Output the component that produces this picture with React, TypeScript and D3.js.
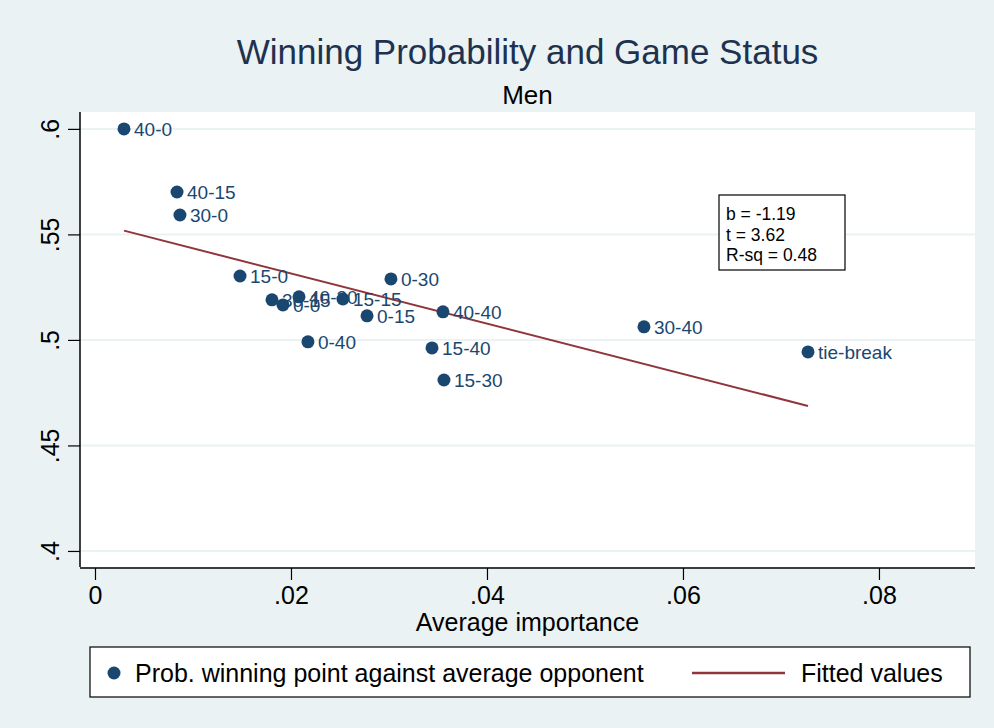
import React, { useRef, useEffect } from 'react';
import * as d3 from 'd3';

// points: average importance vs prob. winning point against average opponent
const scoreLabels = ['40-0', '40-15', '30-0', '15-0', '30-15', '0-0', '40-30', '15-15', '0-30', '0-15', '0-40', '40-40', '15-40', '15-30', '30-40', 'tie-break'];
const importance = [0.00296, 0.00837, 0.00867, 0.0148, 0.01806, 0.01918, 0.02082, 0.0253, 0.0302, 0.02776, 0.02173, 0.03551, 0.03439, 0.03561, 0.05602, 0.07276];
const winProb = [0.6, 0.5701, 0.5592, 0.5303, 0.519, 0.5166, 0.5204, 0.5194, 0.5289, 0.5114, 0.4991, 0.5133, 0.4962, 0.481, 0.5062, 0.4943];

// fitted line
const fitSlope = -1.19;
const fitIntercept = 0.5553;
const statLines = ['b = -1.19', 't = 3.62', 'R-sq = 0.48'];

const xTicks = [0, 0.02, 0.04, 0.06, 0.08];
const yTicks = [0.4, 0.45, 0.5, 0.55, 0.6];

const fmt = (v: number) => (v === 0 ? '0' : d3.format('.2~f')(v).replace(/^0/, ''));

const App = () => {
  const svgRef = useRef<SVGSVGElement>(null);

  useEffect(() => {
    const svg = d3.select(svgRef.current);
    svg.selectAll('*').remove();

    const width = 994;
    const height = 728;
    const plot = { left: 80, right: 975, top: 112, bottom: 567 };
    const navy = '#1a476f';
    const maroon = '#90353b';
    const font = 'Liberation Sans, Arial, sans-serif';

    const x = d3.scaleLinear().domain([-0.00153, 0.0898]).range([plot.left, plot.right]);
    const y = d3.scaleLinear().domain([0.3924, 0.608]).range([plot.bottom, plot.top]);

    svg.append('rect').attr('width', width).attr('height', height).attr('fill', '#eaf2f3');
    svg.append('rect')
      .attr('x', plot.left).attr('y', plot.top)
      .attr('width', plot.right - plot.left).attr('height', plot.bottom - plot.top)
      .attr('fill', '#fff');

    // gridlines
    svg.append('g').selectAll('line').data(yTicks).enter().append('line')
      .attr('x1', plot.left).attr('x2', plot.right)
      .attr('y1', (d) => y(d)).attr('y2', (d) => y(d))
      .attr('stroke', '#eaf2f3').attr('stroke-width', 2);

    // y axis
    const yAxis = svg.append('g')
      .attr('transform', `translate(${plot.left},0)`)
      .call(d3.axisLeft(y).tickValues(yTicks).tickSize(12).tickPadding(0).tickFormat((d) => fmt(+d)));
    yAxis.select('.domain').attr('stroke', '#000').attr('stroke-width', 1.5).attr('d', `M0,${plot.top}V${plot.bottom}`);
    yAxis.selectAll('.tick line').attr('stroke', '#000').attr('stroke-width', 1.2);
    yAxis.selectAll('.tick text')
      .attr('x', 0).attr('dy', null)
      .attr('transform', 'translate(-21,0) rotate(-90)')
      .attr('text-anchor', 'middle')
      .style('font-family', font).style('font-size', '25px').attr('fill', '#000');

    // x axis
    const xAxis = svg.append('g')
      .attr('transform', `translate(0,${plot.bottom + 1})`)
      .call(d3.axisBottom(x).tickValues(xTicks).tickSize(12).tickPadding(6).tickFormat((d) => fmt(+d)));
    xAxis.select('.domain').attr('stroke', '#000').attr('stroke-width', 1.5).attr('d', `M${plot.left},0H${plot.right}`);
    xAxis.selectAll('.tick line').attr('stroke', '#000').attr('stroke-width', 1.2);
    xAxis.selectAll('.tick text')
      .style('font-family', font).style('font-size', '25px').attr('fill', '#000');

    svg.append('text')
      .attr('x', (plot.left + plot.right) / 2).attr('y', 631)
      .attr('text-anchor', 'middle')
      .style('font-family', font).style('font-size', '25px')
      .text('Average importance');

    // titles
    svg.append('text')
      .attr('x', (plot.left + plot.right) / 2).attr('y', 64)
      .attr('text-anchor', 'middle').attr('fill', '#1e3250')
      .style('font-family', font).style('font-size', '35px')
      .text('Winning Probability and Game Status');
    svg.append('text')
      .attr('x', (plot.left + plot.right) / 2).attr('y', 104)
      .attr('text-anchor', 'middle').attr('fill', '#000')
      .style('font-family', font).style('font-size', '26px')
      .text('Men');

    // fitted line
    const xExt = d3.extent(importance) as [number, number];
    const fitData = xExt.map((v) => ({ x: v, y: fitIntercept + fitSlope * v }));
    svg.append('path')
      .datum(fitData)
      .attr('fill', 'none').attr('stroke', maroon).attr('stroke-width', 2)
      .attr('d', d3.line<{ x: number; y: number }>().x((d) => x(d.x)).y((d) => y(d.y)));

    // points + labels
    const pts = scoreLabels.map((l, i) => ({ label: l, x: importance[i], y: winProb[i] }));
    const g = svg.append('g');
    g.selectAll('circle').data(pts).enter().append('circle')
      .attr('cx', (d) => x(d.x)).attr('cy', (d) => y(d.y)).attr('r', 6.5).attr('fill', navy);
    g.selectAll('text').data(pts).enter().append('text')
      .attr('x', (d) => x(d.x) + 10).attr('y', (d) => y(d.y) + 7)
      .attr('fill', navy)
      .style('font-family', font).style('font-size', '19px')
      .text((d) => d.label);

    // stats box
    const box = svg.append('g').attr('transform', 'translate(719,195)');
    box.append('rect').attr('width', 126).attr('height', 75).attr('fill', '#fff').attr('stroke', '#000').attr('stroke-width', 1.2);
    box.selectAll('text').data(statLines).enter().append('text')
      .attr('x', 7).attr('y', (d, i) => 25 + i * 20.5)
      .style('font-family', font).style('font-size', '17.5px').attr('fill', '#000')
      .text((d) => d);

    // legend
    const leg = svg.append('g').attr('transform', 'translate(90,647)');
    leg.append('rect').attr('width', 880).attr('height', 50).attr('fill', '#fff').attr('stroke', '#000').attr('stroke-width', 1.2);
    leg.append('circle').attr('cx', 24).attr('cy', 26).attr('r', 6.5).attr('fill', navy);
    leg.append('text').attr('x', 45).attr('y', 35)
      .style('font-family', font).style('font-size', '25px').text('Prob. winning point against average opponent');
    leg.append('line').attr('x1', 602).attr('x2', 695).attr('y1', 26).attr('y2', 26).attr('stroke', maroon).attr('stroke-width', 2.5);
    leg.append('text').attr('x', 711).attr('y', 35)
      .style('font-family', font).style('font-size', '25px').text('Fitted values');
  }, []);

  return (
    <svg ref={svgRef} width={994} height={728} style={{ position: 'absolute', left: 0, top: 0 }} />
  );
};

export default App;
